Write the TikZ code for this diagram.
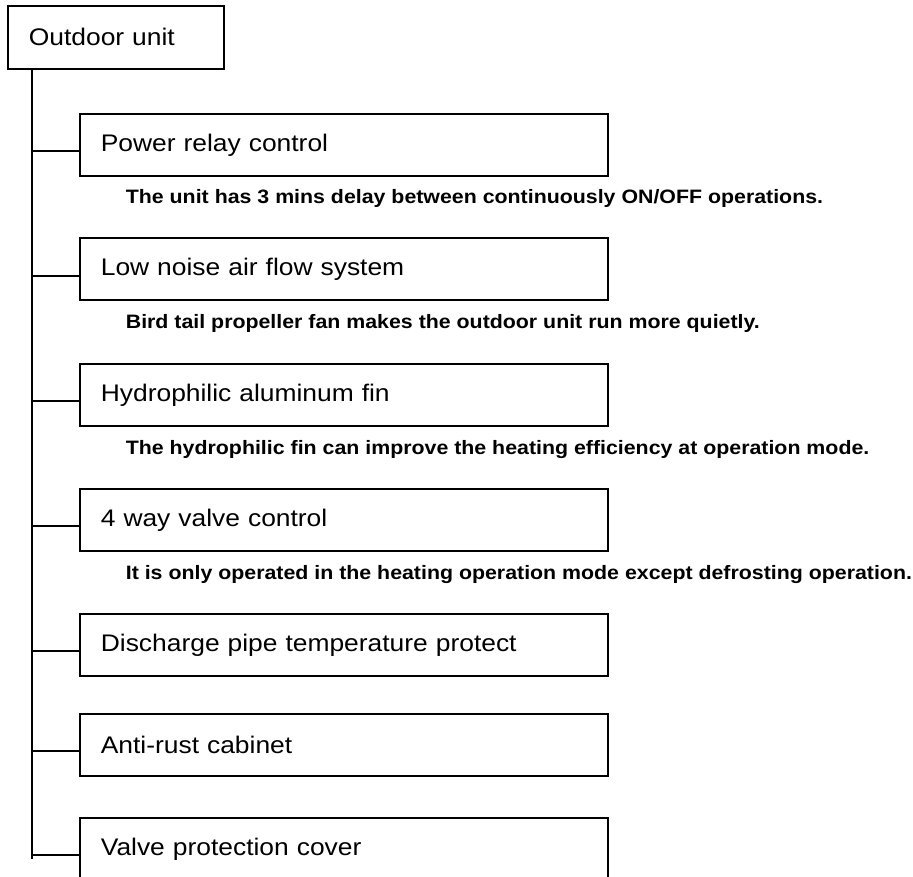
\documentclass[tikz,border=0pt]{standalone}
\usepackage{fontspec}
\setmainfont[FakeStretch=1.1]{Liberation Sans}

\begin{document}
\begin{tikzpicture}[x=1pt, y=-1pt, line width=1.7pt,
  unit/.style={draw, anchor=north west, minimum width=216pt, minimum height=63pt, text width=174pt, inner xsep=21pt, align=left, font=\fontsize{24}{28}\selectfont},
  item/.style={draw, anchor=north west, minimum width=528pt, minimum height=62pt, text width=486pt, inner xsep=21pt, align=left, font=\fontsize{24}{28}\selectfont},
  note/.style={anchor=base west, inner sep=0pt, font=\fontsize{19.4}{23}\selectfont\bfseries}]
	\path[use as bounding box] (0,0) rectangle (913,877);
	\clip (0,0) rectangle (913,877);
	% top box
	\node[unit] (ou) at (7,5) {Outdoor unit};
	% features
	\node[item] (pr) at (79,113) {Power relay control};
	\node[item] (ln) at (79,237) {Low noise air flow system};
	\node[item] (hf) at (79,363) {Hydrophilic aluminum fin};
	\node[item] (wv) at (79,488) {4 way valve control};
	\node[item] (dp) at (79,613) {Discharge pipe temperature protect};
	\node[item] (ar) at (79,713) {Anti-rust cabinet};
	\node[item] (vc) at (79,817) {Valve protection cover};
	% notes
	\node[note] (prn) at (125,204) {The unit has 3 mins delay between continuously ON/OFF operations.};
	\node[note] (lnn) at (125,329) {Bird tail propeller fan makes the outdoor unit run more quietly.};
	\node[note] (hfn) at (125,454) {The hydrophilic fin can improve the heating efficiency at operation mode.};
	\node[note] (wvn) at (125,579) {It is only operated in the heating operation mode except defrosting operation.};
	% trunk and branches
	\coordinate (j1) at (32,151);
	\coordinate (j2) at (32,276);
	\coordinate (j3) at (32,401);
	\coordinate (j4) at (32,526);
	\coordinate (j5) at (32,651);
	\coordinate (j6) at (32,751);
	\coordinate (j7) at (32,855);
	\coordinate (end) at (32,859);
	\draw (ou.south -| j1) -- (end);
	\draw (j1) -- (j1 -| pr.west);
	\draw (j2) -- (j2 -| ln.west);
	\draw (j3) -- (j3 -| hf.west);
	\draw (j4) -- (j4 -| wv.west);
	\draw (j5) -- (j5 -| dp.west);
	\draw (j6) -- (j6 -| ar.west);
	\draw (j7) -- (j7 -| vc.west);
\end{tikzpicture}
\end{document}
